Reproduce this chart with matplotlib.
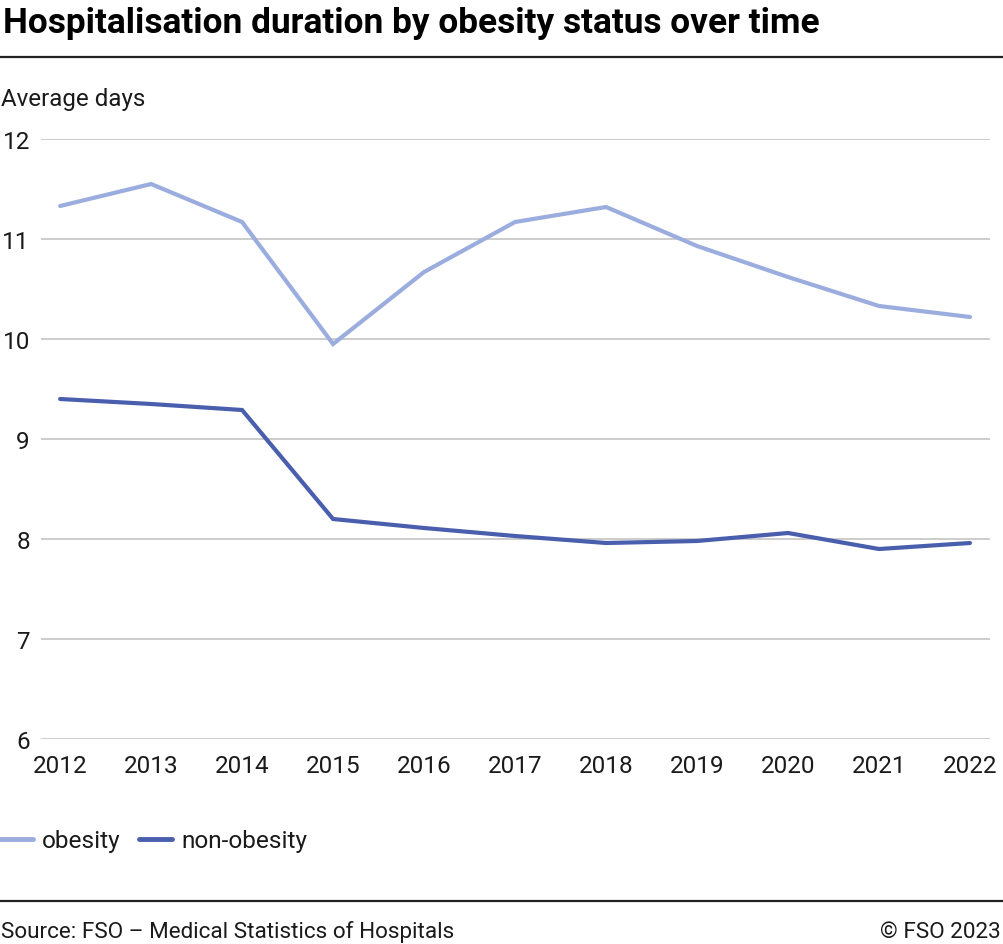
import matplotlib
matplotlib.use("Agg")
import matplotlib.pyplot as plt
from matplotlib.lines import Line2D

plt.rcParams["font.family"] = ["Roboto", "DejaVu Sans"]

years = [2012, 2013, 2014, 2015, 2016, 2017, 2018, 2019, 2020, 2021, 2022]
obesity = [11.33, 11.55, 11.17, 9.95, 10.67, 11.17, 11.32, 10.93, 10.62, 10.33, 10.22]
non_obesity = [9.40, 9.35, 9.29, 8.20, 8.11, 8.03, 7.96, 7.98, 8.06, 7.90, 7.96]
y_ticks = [6, 7, 8, 9, 10, 11, 12]

c_obesity = "#9badde"
c_non = "#4a5eae"
text_col = "#1a1a1a"

W, H = 1004, 945
fig = plt.figure(figsize=(W / 100, H / 100), dpi=100)

# axes placed so the gridlines run 41..990 px and 12..6 sit at 140..740 px
ax = fig.add_axes([41 / W, 1 - 740 / H, (990 - 41) / W, 600 / H])

ax.plot(years, obesity, color=c_obesity, lw=3, label="obesity", solid_joinstyle="miter", solid_capstyle="round")
ax.plot(years, non_obesity, color=c_non, lw=3, label="non-obesity", solid_joinstyle="miter", solid_capstyle="round")

ax.set_xlim(2012 - 0.21, 2022 + 0.22)
ax.set_ylim(6, 12)
ax.set_yticks(y_ticks)
ax.set_xticks(years)
ax.grid(axis="y", color="#cccccc", lw=1.4)
ax.set_axisbelow(True)
for s in ax.spines.values():
    s.set_visible(False)
ax.tick_params(axis="both", length=0, labelsize=17.5, colors=text_col)
ax.tick_params(axis="y", pad=8)
ax.tick_params(axis="x", pad=11)

# title, subtitle and rules
fig.text(3 / W, 1 - 33 / H, "Hospitalisation duration by obesity status over time",
         fontsize=25.4, weight="bold", color="#000000", va="baseline", ha="left")
fig.add_artist(Line2D([0, 1], [1 - 58 / H, 1 - 58 / H], transform=fig.transFigure, color="#222222", lw=1.6))
fig.text(1 / W, 1 - 106 / H, "Average days", fontsize=17.4, color=text_col, va="baseline", ha="left")

# legend
leg = fig.legend(loc="center left", bbox_to_anchor=(0, 1 - 842 / H), frameon=False, ncol=2,
                 fontsize=17.6, handlelength=1.36, handletextpad=0.37, columnspacing=0.75,
                 borderpad=0, borderaxespad=0)
for t in leg.get_texts():
    t.set_color(text_col)
for h in leg.legend_handles:
    h.set_linewidth(3.5)

# footer
fig.add_artist(Line2D([0, 1], [1 - 902 / H, 1 - 902 / H], transform=fig.transFigure, color="#222222", lw=1.6))
fig.text(1 / W, 1 - 938 / H, "Source: FSO – Medical Statistics of Hospitals", fontsize=16.2,
         color=text_col, va="baseline", ha="left")
fig.text(1 - 3 / W, 1 - 938 / H, "© FSO 2023", fontsize=16.2, color=text_col, va="baseline", ha="right")

fig.savefig("out.png", dpi=100)
